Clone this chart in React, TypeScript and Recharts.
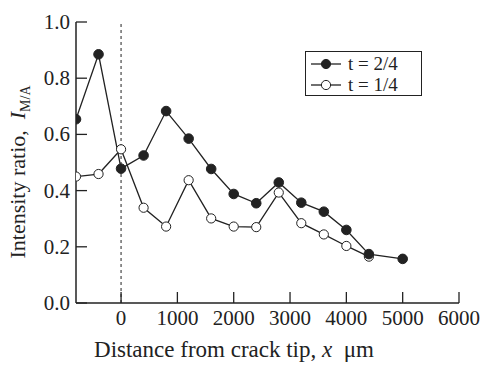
import React from "react";
import {
  LineChart,
  Line,
  XAxis,
  YAxis,
  ReferenceLine,
  Legend,
} from "recharts";

// distance from crack tip (µm)
const distances = [-800, -400, 0, 400, 800, 1200, 1600, 2000, 2400, 2800, 3200, 3600, 4000, 4400, 5000];
const t24 = [0.654, 0.885, 0.478, 0.525, 0.683, 0.585, 0.477, 0.388, 0.355, 0.429, 0.357, 0.325, 0.26, 0.174, 0.157];
const t14 = [0.45, 0.459, 0.547, 0.339, 0.272, 0.437, 0.301, 0.272, 0.27, 0.393, 0.284, 0.244, 0.203, 0.165, null];

const xTicks = [0, 1000, 2000, 3000, 4000, 5000, 6000];
const yTicks = [0, 0.2, 0.4, 0.6, 0.8, 1.0];

const data = distances.map((x, i) => ({ x, a: t24[i], b: t14[i] }));

const FONT = "Liberation Serif";
const INK = "#222";
const TICK = 11;

const BottomTick = (props: any) => {
  const { x, y, payload } = props;
  return (
    <g>
      <line x1={x} y1={y} x2={x} y2={y - TICK} stroke={INK} strokeWidth={1.3} />
      <text x={x} y={y + 22} textAnchor="middle" style={{ fontFamily: FONT }} fontSize={21} fill={INK}>
        {payload.value}
      </text>
    </g>
  );
};

const TopTick = (props: any) => {
  const { x, y } = props;
  return <line x1={x} y1={y} x2={x} y2={y + TICK} stroke={INK} strokeWidth={1.3} />;
};

const LeftTick = (props: any) => {
  const { x, y, payload } = props;
  return (
    <g>
      <line x1={x} y1={y} x2={x + TICK} y2={y} stroke={INK} strokeWidth={1.3} />
      <text x={x - 6} y={y + 7} textAnchor="end" style={{ fontFamily: FONT }} fontSize={21} fill={INK}>
        {Number(payload.value).toFixed(1)}
      </text>
    </g>
  );
};

const RightTick = (props: any) => {
  const { x, y } = props;
  return <line x1={x} y1={y} x2={x - TICK} y2={y} stroke={INK} strokeWidth={1.3} />;
};

const LegendBox = () => (
  <div
    style={{
      border: `1.5px solid ${INK}`,
      background: "#fff",
      fontFamily: FONT,
      fontSize: 19,
      lineHeight: "21px",
      padding: "1px 4px",
      color: INK,
      boxSizing: "border-box",
      height: 45,
    }}
  >
    {[
      { label: "t = 2/4", fill: INK },
      { label: "t = 1/4", fill: "#fff" },
    ].map((it) => (
      <div key={it.label} style={{ display: "flex", alignItems: "center", height: 21 }}>
        <svg width={32} height={14} style={{ marginRight: 6 }}>
          <line x1={1} y1={7} x2={31} y2={7} stroke={INK} strokeWidth={1.3} />
          <circle cx={16} cy={7} r={4.6} fill={it.fill} stroke={INK} strokeWidth={1} />
        </svg>
        <span>{it.label}</span>
      </div>
    ))}
  </div>
);

const YLabel = () => (
  <text
    x={25}
    y={172}
    transform="rotate(-90 25 172)"
    textAnchor="middle"
    style={{ fontFamily: FONT }}
    fontSize={22}
    fill={INK}
  >
    Intensity ratio,{"\u00a0\u00a0"}
    <tspan fontStyle="italic">I</tspan>
    <tspan fontSize={14} dy={5}>M/A</tspan>
  </text>
);

const XLabel = () => (
  <text x={234} y={357} textAnchor="middle" style={{ fontFamily: FONT }} fontSize={23} fill={INK}>
    Distance from crack tip,{" "}
    <tspan fontStyle="italic">x</tspan>
    {"\u00a0\u00a0\u03bcm"}
  </text>
);

export default function App() {
  return (
    <div style={{ position: "absolute", left: 0, top: 0 }}>
      <LineChart width={481} height={365} data={data} margin={{ top: 22, right: 22, left: 0, bottom: 0 }}>
        <XAxis
          dataKey="x"
          type="number"
          domain={[-800, 6000]}
          ticks={xTicks}
          allowDataOverflow
          height={62}
          tickSize={0}
          tickMargin={0}
          tickLine={false}
          axisLine={{ stroke: INK, strokeWidth: 1.5 }}
          tick={<BottomTick />}
          interval={0}
          label={{ content: () => <XLabel /> }}
        />
        <XAxis
          xAxisId="top"
          orientation="top"
          dataKey="x"
          type="number"
          domain={[-800, 6000]}
          ticks={xTicks}
          allowDataOverflow
          height={0}
          tickSize={0}
          tickMargin={0}
          tickLine={false}
          axisLine={{ stroke: INK, strokeWidth: 1.5 }}
          tick={<TopTick />}
          interval={0}
        />
        <YAxis
          type="number"
          domain={[0, 1]}
          ticks={yTicks}
          width={76}
          tickSize={0}
          tickMargin={0}
          tickLine={false}
          axisLine={{ stroke: INK, strokeWidth: 1.5 }}
          tick={<LeftTick />}
          interval={0}
          label={{ content: () => <YLabel /> }}
        />
        <YAxis
          yAxisId="right"
          orientation="right"
          type="number"
          domain={[0, 1]}
          ticks={yTicks}
          width={0}
          tickSize={0}
          tickMargin={0}
          tickLine={false}
          axisLine={{ stroke: INK, strokeWidth: 1.5 }}
          tick={<RightTick />}
          interval={0}
        />
        <ReferenceLine x={0} stroke={INK} strokeWidth={1} strokeDasharray="3 3" />
        <Legend
          layout="vertical"
          align="center"
          verticalAlign="middle"
          content={() => <LegendBox />}
          wrapperStyle={{ left: 305, top: 51, width: 117, height: 45 }}
        />
        <Line
          dataKey="b"
          name="t = 1/4"
          stroke={INK}
          strokeWidth={1.3}
          dot={{ r: 4.6, fill: "#fff", stroke: INK, strokeWidth: 1 }}
          isAnimationActive={false}
          connectNulls={false}
        />
        <Line
          dataKey="a"
          name="t = 2/4"
          stroke={INK}
          strokeWidth={1.3}
          dot={{ r: 4.8, fill: INK, stroke: INK, strokeWidth: 1 }}
          isAnimationActive={false}
        />
      </LineChart>
    </div>
  );
}
